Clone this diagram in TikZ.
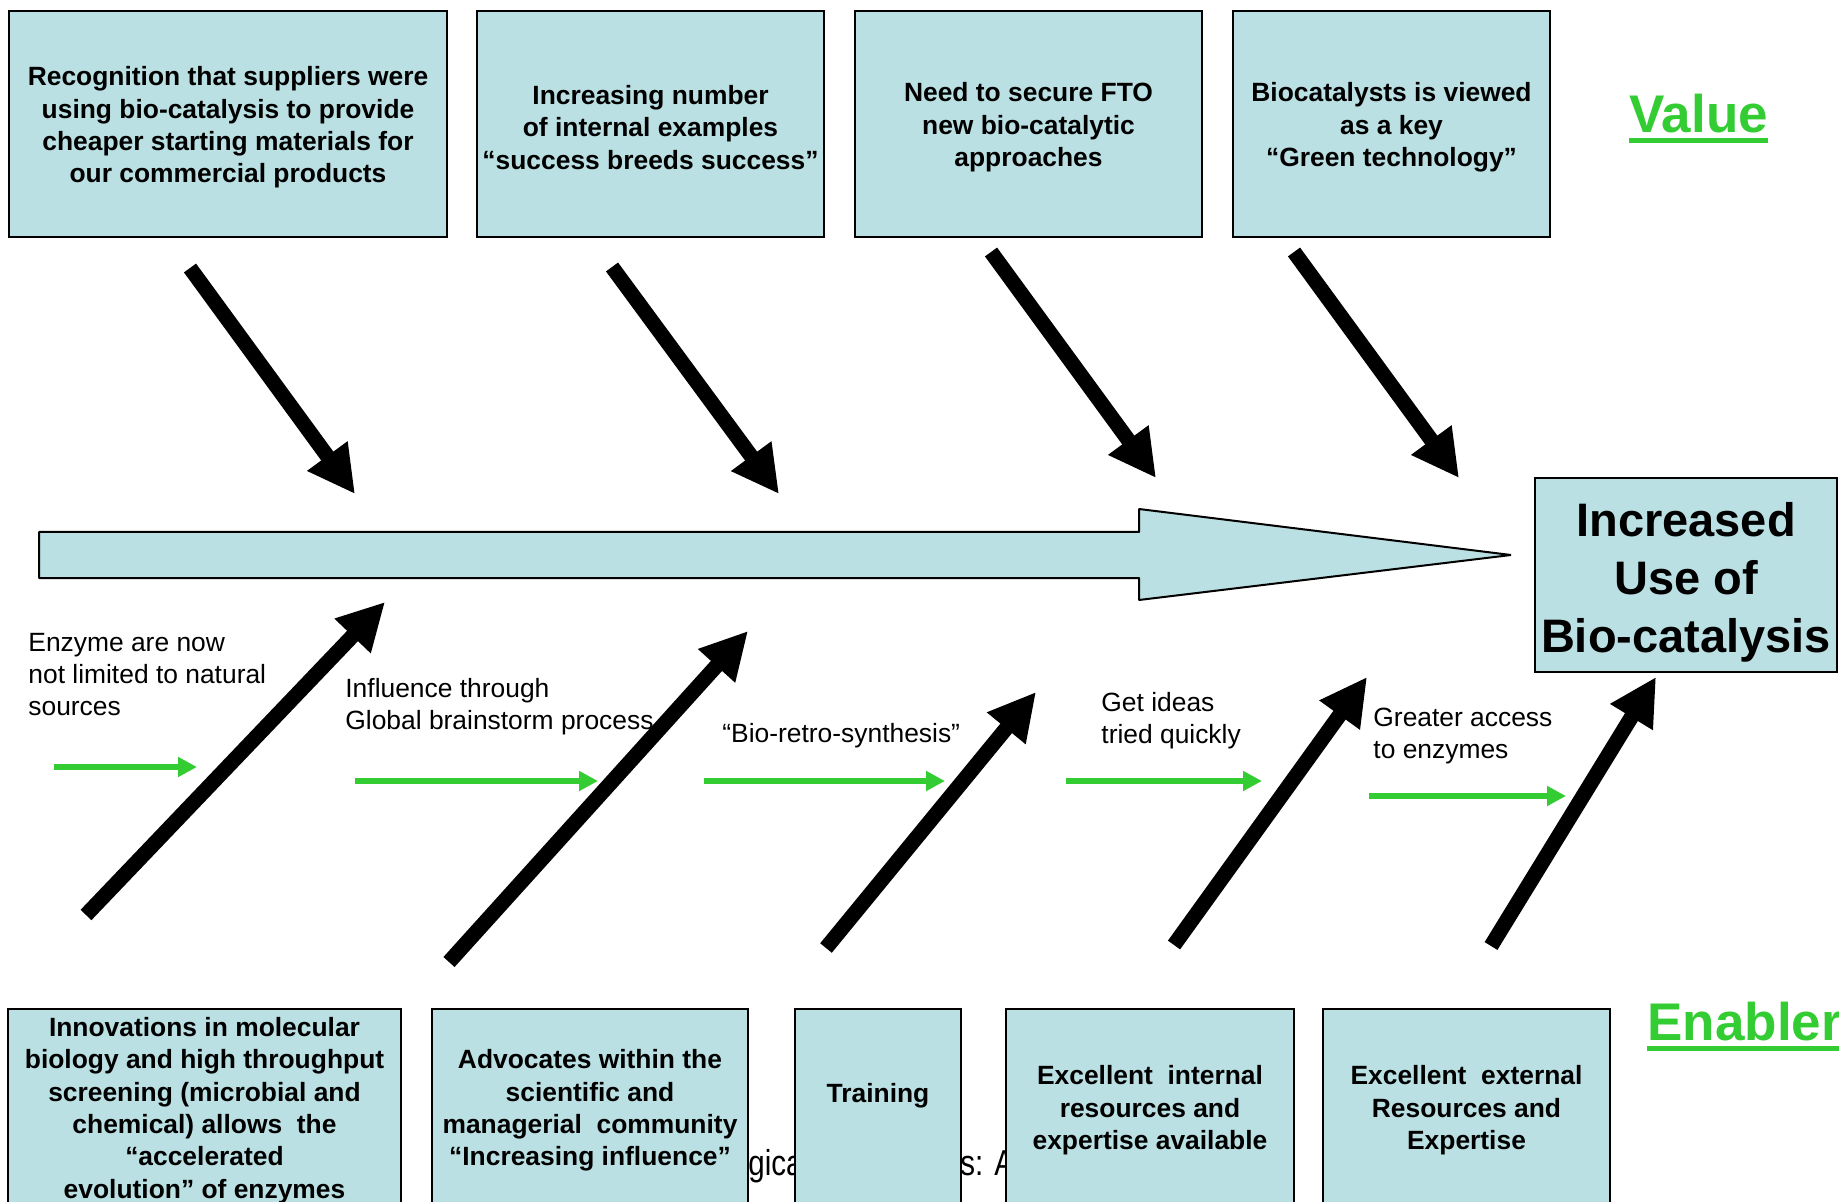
\documentclass[tikz,border=0pt]{standalone}
\usepackage{fontspec}
\setmainfont{Liberation Sans}
\newfontfamily\narrowfont[FakeStretch=0.82]{Liberation Sans}
\usetikzlibrary{arrows.meta}
\definecolor{boxfill}{RGB}{186,224,227}
\definecolor{lgreen}{RGB}{51,204,51}
\begin{document}
\begin{tikzpicture}[x=0.5pt,y=-0.5pt,
  box/.style={draw=black, line width=1pt, fill=boxfill, inner sep=0pt},
  boxtext/.style={inner sep=0pt, align=center,
    font=\bfseries\fontsize{13.2pt}{16.2pt}\selectfont},
  lbl/.style={anchor=north west, inner sep=0pt, align=left,
    font=\fontsize{13.2pt}{16pt}\selectfont},
  bigarrow/.style={line width=7.5pt, -{Triangle[length=23.5pt,width=23.5pt]}},
  garrow/.style={draw=lgreen, line width=2.7pt, -{Triangle[length=9.5pt,width=9.5pt]}},
  hdr/.style={text=lgreen, font=\bfseries\fontsize{26.5pt}{30pt}\selectfont, inner sep=0pt, anchor=base west},
  fragtext/.style={anchor=base west, inner sep=0pt, font=\narrowfont\fontsize{18pt}{20pt}\selectfont}]
\useasboundingbox (0,0) rectangle (1839,1202);
\clip (0,0) rectangle (1839,1202);

% top boxes (Value)
\node[box, minimum width=219pt, minimum height=113pt] (t1) at (228,124) {};
\node[box, minimum width=173.5pt, minimum height=113pt] (t2) at (650.5,124) {};
\node[box, minimum width=173.5pt, minimum height=113pt] (t3) at (1028.5,124) {};
\node[box, minimum width=158.5pt, minimum height=113pt] (t4) at (1391.5,124) {};
\node[boxtext] (t1x) at ([yshift=-1.75pt]t1.center)
  {Recognition that suppliers were\\using bio-catalysis to provide\\cheaper starting materials for\\our commercial products};
\node[boxtext] (t2x) at ([yshift=-1.75pt]t2.center)
  {Increasing number\\of internal examples\\“success breeds success”};
\node[boxtext] (t3x) at ([yshift=-1.75pt]t3.center)
  {Need to secure FTO\\new bio-catalytic\\approaches};
\node[boxtext] (t4x) at ([yshift=-1.75pt]t4.center)
  {Biocatalysts is viewed\\as a key\\“Green technology”};

\node[hdr] (value) at (1629,133) {Value};
\draw[lgreen, line width=2.5pt] ([yshift=-4pt]value.base west) -- ([yshift=-4pt]value.base east);

% result box
\node[box, minimum width=151pt, minimum height=97pt] (res) at (1686,575) {};
\node[boxtext, font=\bfseries\fontsize{23.5pt}{29pt}\selectfont] (resx) at ([yshift=-3.5pt]res.center)
  {Increased\\Use of\\Bio-catalysis};

% spine
\coordinate (s1) at (39,532);
\coordinate (s2) at (1139,532);
\coordinate (s3) at (1139,509);
\coordinate (s4) at (1511,555);
\coordinate (s5) at (1139,600);
\coordinate (s6) at (1139,578);
\coordinate (s7) at (39,578);
\draw[line width=1pt, line join=bevel, fill=boxfill] (s1) -- (s2) -- (s3) -- (s4) -- (s5) -- (s6) -- (s7) -- cycle;

% down arrows
\coordinate (a1s) at (190,268);  \coordinate (a1e) at (355,494);
\coordinate (a2s) at (612,267);  \coordinate (a2e) at (779,494);
\coordinate (a3s) at (991,252);  \coordinate (a3e) at (1156,478);
\coordinate (a4s) at (1294,252); \coordinate (a4e) at (1459,478);
\draw[bigarrow] (a1s) -- (a1e);
\draw[bigarrow] (a2s) -- (a2e);
\draw[bigarrow] (a3s) -- (a3e);
\draw[bigarrow] (a4s) -- (a4e);

% up arrows
\coordinate (b1s) at (86,915);   \coordinate (b1e) at (385,602);
\coordinate (b2s) at (449,962);  \coordinate (b2e) at (748,631);
\coordinate (b3s) at (826,948);  \coordinate (b3e) at (1036,692);
\coordinate (b4s) at (1174,945); \coordinate (b4e) at (1367,677);
\coordinate (b5s) at (1491,946); \coordinate (b5e) at (1656,677);
\draw[bigarrow] (b1s) -- (b1e);
\draw[bigarrow] (b2s) -- (b2e);
\draw[bigarrow] (b3s) -- (b3e);
\draw[bigarrow] (b4s) -- (b4e);
\draw[bigarrow] (b5s) -- (b5e);

% green arrows
\coordinate (g1s) at (54,767);   \coordinate (g1e) at (197,767);
\coordinate (g2s) at (355,781);  \coordinate (g2e) at (598,781);
\coordinate (g3s) at (704,781);  \coordinate (g3e) at (945,781);
\coordinate (g4s) at (1066,781); \coordinate (g4e) at (1262,781);
\coordinate (g5s) at (1369,796); \coordinate (g5e) at (1566,796);
\draw[garrow] (g1s) -- (g1e);
\draw[garrow] (g2s) -- (g2e);
\draw[garrow] (g3s) -- (g3e);
\draw[garrow] (g4s) -- (g4e);
\draw[garrow] (g5s) -- (g5e);

% labels
\node[lbl] (l1) at (28,633) {Enzyme are now\\not limited to natural\\sources};
\node[lbl] (l2) at (345,678) {Influence through\\Global brainstorm process};
\node[lbl] (l3) at (722,723) {“Bio-retro-synthesis”};
\node[lbl] (l4) at (1101,692) {Get ideas\\tried quickly};
\node[lbl] (l5) at (1373,708) {Greater access\\to enzymes};

% background title fragments, partly hidden behind the boxes
\node[fragtext] (frag1) at (748,1175) {gica};
\node[fragtext] (frag2) at (960,1175) {s: A};

% bottom boxes (Enablers)
\node[box, minimum width=196.5pt, minimum height=98pt] (c1) at (204.5,1107) {};
\node[box, minimum width=158pt, minimum height=98pt] (c2) at (590,1107) {};
\node[box, minimum width=83pt, minimum height=98pt] (c3) at (878,1107) {};
\node[box, minimum width=144pt, minimum height=98pt] (c4) at (1150,1107) {};
\node[box, minimum width=143.5pt, minimum height=98pt] (c5) at (1466.5,1107) {};
\node[boxtext] (c1x) at ([yshift=-1.75pt]c1.center)
  {Innovations in molecular\\biology and high throughput\\screening (microbial and\\chemical) allows~ the\\“accelerated\\evolution” of enzymes};
\node[boxtext] (c2x) at ([yshift=-1.75pt]c2.center)
  {Advocates within the\\scientific and\\managerial~ community\\“Increasing influence”};
\node[boxtext] (c3x) at ([yshift=5.75pt]c3.center) {Training};
\node[boxtext] (c4x) at ([yshift=-1.75pt]c4.center)
  {Excellent~ internal\\resources and\\expertise available};
\node[boxtext] (c5x) at ([yshift=-1.75pt]c5.center)
  {Excellent~ external\\Resources and\\Expertise};

\node[hdr] (enab) at (1647,1040) {Enabler};
\draw[lgreen, line width=2.5pt] ([yshift=-4pt]enab.base west) -- ([yshift=-4pt]enab.base east);
\end{tikzpicture}
\end{document}
